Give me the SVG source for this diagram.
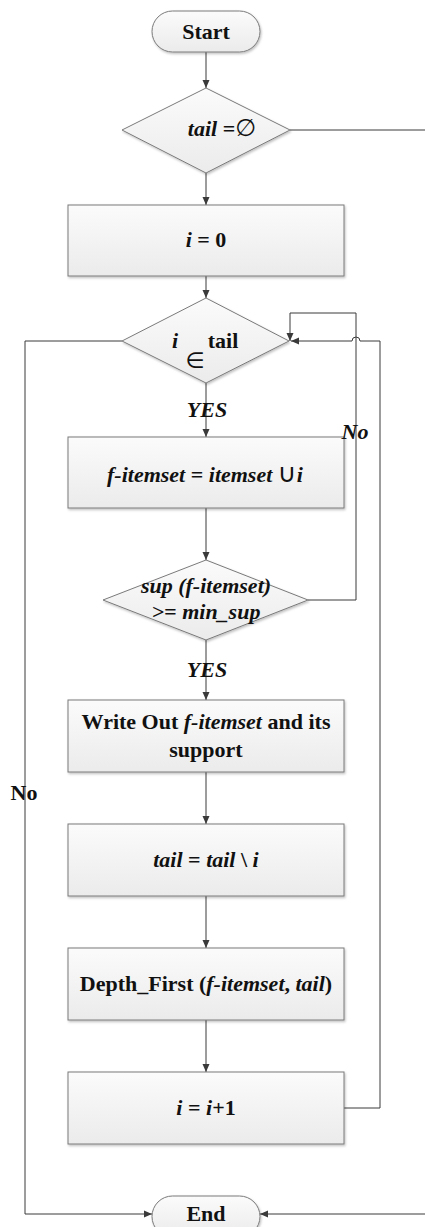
<svg xmlns="http://www.w3.org/2000/svg" width="425" height="1227" viewBox="0 0 425 1227">
<defs>
<linearGradient id="g" x1="0" y1="0" x2="0" y2="1">
<stop offset="0" stop-color="#fbfbfb"/>
<stop offset="1" stop-color="#ebebeb"/>
</linearGradient>
<filter id="sh" x="-10%" y="-10%" width="120%" height="130%">
<feDropShadow dx="1" dy="1.5" stdDeviation="1" flood-color="#000" flood-opacity="0.25"/>
</filter>
<marker id="ah" markerWidth="8" markerHeight="8" refX="8" refY="4" orient="auto" markerUnits="userSpaceOnUse">
<path d="M0,0.5 L8,4 L0,7.5 Z" fill="#3a3a3a"/>
</marker>
<style>
.n{fill:url(#g);stroke:#7a7a7a;stroke-width:1;filter:url(#sh)}
.c{fill:none;stroke:#3a3a3a;stroke-width:1}
.a{marker-end:url(#ah)}
text{font-family:"Liberation Serif","Times New Roman","DejaVu Serif",serif;font-size:22px;font-weight:bold;fill:#111;text-anchor:middle}
.bi{font-style:italic}
.sym{font-family:"DejaVu Sans",sans-serif;font-weight:normal}
</style>
</defs>
<g id="connectors">
<path class="c a" d="M206,52 V88"/>
<path class="c" d="M290,130 H425"/>
<path class="c a" d="M206,173 V205"/>
<path class="c a" d="M206,276 V298"/>
<path class="c a" d="M206,383 V437"/>
<path class="c a" d="M206,508 V560"/>
<path class="c a" d="M206,640 V700"/>
<path class="c a" d="M206,772 V824"/>
<path class="c a" d="M206,896 V948"/>
<path class="c a" d="M206,1020 V1072"/>
<path class="c a" d="M122,341 H25 V1214 H152"/>
<path class="c a" d="M425,1214 H260"/>
<path class="c a" d="M308,600 H356 V313 H290 V341"/>
<path class="c a" d="M344,1108 H380 V341 H360 A4,4 0 0 0 352,341 H291"/>
</g>
<g id="start">
<rect class="n" x="152" y="11" width="108" height="41" rx="20.5"/>
<text x="206" y="39">Start</text>
</g>
<g id="tail-empty">
<polygon class="n" points="206,88 290,130 206,173 122,130"/>
<text x="222" y="136"><tspan class="bi">tail</tspan> =<tspan class="sym" font-size="24">∅</tspan></text>
</g>
<g id="i-zero">
<rect class="n" x="68" y="205" width="276" height="71"/>
<text x="206" y="247"><tspan class="bi">i</tspan> = 0</text>
</g>
<g id="i-in-tail">
<polygon class="n" points="206,298 289,341 206,383 122,341"/>
<text x="175" y="348" class="bi">i</text>
<text x="223" y="348">tail</text>
<text x="195" y="368" class="sym" font-size="21">∈</text>
</g>
<g id="f-itemset">
<rect class="n" x="68" y="437" width="276" height="71"/>
<text x="205" y="482"><tspan class="bi">f-itemset</tspan> = <tspan class="bi">itemset</tspan> <tspan class="sym" font-size="26">∪</tspan><tspan class="bi">i</tspan></text>
</g>
<g id="sup-check">
<polygon class="n" points="206,560 308,600 206,640 103,600"/>
<text x="206" y="593" class="bi">sup (f-itemset)</text>
<text x="206" y="619" class="bi">&gt;= min_sup</text>
</g>
<g id="write-out">
<rect class="n" x="68" y="700" width="276" height="72"/>
<text x="206" y="729">Write Out <tspan class="bi">f-itemset</tspan> and its</text>
<text x="206" y="757">support</text>
</g>
<g id="tail-update">
<rect class="n" x="68" y="824" width="276" height="72"/>
<text x="206" y="867"><tspan class="bi">tail</tspan> = <tspan class="bi">tail</tspan> \ <tspan class="bi">i</tspan></text>
</g>
<g id="depth-first">
<rect class="n" x="68" y="948" width="276" height="72"/>
<text x="206" y="991">Depth_First (<tspan class="bi">f-itemset</tspan>, <tspan class="bi">tail</tspan>)</text>
</g>
<g id="i-increment">
<rect class="n" x="68" y="1072" width="276" height="72"/>
<text x="206" y="1115"><tspan class="bi">i</tspan> = <tspan class="bi">i</tspan>+1</text>
</g>
<g id="end">
<rect class="n" x="152" y="1196" width="108" height="41" rx="20.5"/>
<text x="206" y="1221">End</text>
</g>
<g id="labels">
<text x="207" y="417" class="bi">YES</text>
<text x="207" y="677" class="bi">YES</text>
<text x="355" y="439" class="bi">No</text>
<text x="24" y="800">No</text>
</g>
</svg>
